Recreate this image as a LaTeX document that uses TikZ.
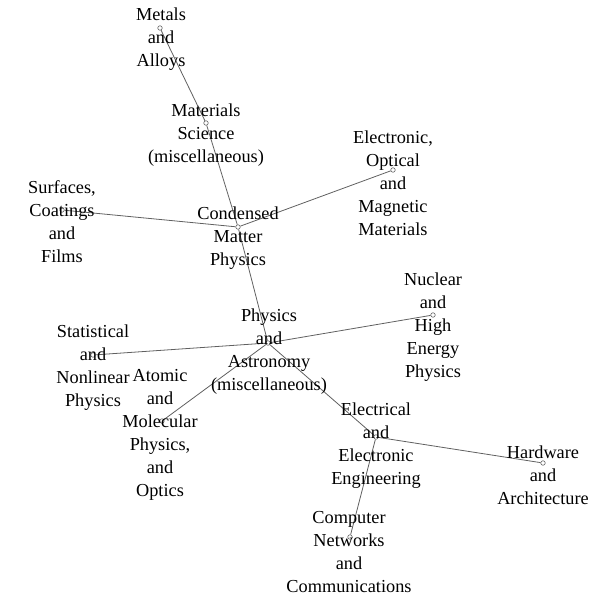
\documentclass[tikz,border=0pt]{standalone}
\usepackage{fontspec}
\setmainfont{Liberation Serif}
\usepackage{tikz}

\begin{document}
\begin{tikzpicture}[x=1pt,y=-1pt,semithick,
  vtx/.style={circle,draw=gray!80!black,fill=white,inner sep=0pt,minimum size=4.5pt,line width=0.6pt},
  lbl/.style={align=center,font=\fontsize{18.3}{23}\selectfont},
  every edge/.style={draw=gray!75!black,line width=0.8pt}]
                \useasboundingbox (0,0) rectangle (599,596);
                % vertices
                \node[vtx] (ma) at (160,28) {};
                \node[vtx] (ms) at (206,123) {};
                \node[vtx] (scf) at (62,210) {};
                \node[vtx] (cmp) at (238,227) {};
                \node[vtx] (eom) at (393,170) {};
                \node[vtx] (pa) at (268,343) {};
                \node[vtx] (nhe) at (433,315) {};
                \node[vtx] (snp) at (93,355) {};
                \node[vtx] (amo) at (162,421) {};
                \node[vtx] (eee) at (376,437) {};
                \node[vtx] (ha) at (543,463) {};
                \node[vtx] (cnc) at (350,537) {};
                \path
                (ma) edge (ms)
                (ms) edge (cmp)
                (cmp) edge (scf)
                      edge (eom)
                      edge (pa)
                (pa) edge (snp)
                     edge (nhe)
                     edge (amo)
                     edge (eee)
                (eee) edge (ha)
                      edge (cnc)
                ;
                % labels
                \node[lbl] (ma-t) at (161,39) {Metals\\and\\Alloys};
                \node[lbl] (ms-t) at (206,135) {Materials\\Science\\(miscellaneous)};
                \node[lbl] (scf-t) at (62,222) {Surfaces,\\Coatings\\and\\Films};
                \node[lbl] (cmp-t) at (238,238) {Condensed\\Matter\\Physics};
                \node[lbl] (eom-t) at (393,183) {Electronic,\\Optical\\and\\Magnetic\\Materials};
                \node[lbl] (pa-t) at (269,352) {Physics\\and\\Astronomy\\(miscellaneous)};
                \node[lbl] (nhe-t) at (433,327) {Nuclear\\and\\High\\Energy\\Physics};
                \node[lbl] (snp-t) at (93,368) {Statistical\\and\\Nonlinear\\Physics};
                \node[lbl] (amo-t) at (160,435) {Atomic\\and\\Molecular\\Physics,\\and\\Optics};
                \node[lbl] (eee-t) at (376,446) {Electrical\\and\\Electronic\\Engineering};
                \node[lbl] (ha-t) at (543,475) {Hardware\\and\\Architecture};
                \node[lbl] (cnc-t) at (349,552) {Computer\\Networks\\and\\Communications};
            \end{tikzpicture}
\end{document}
